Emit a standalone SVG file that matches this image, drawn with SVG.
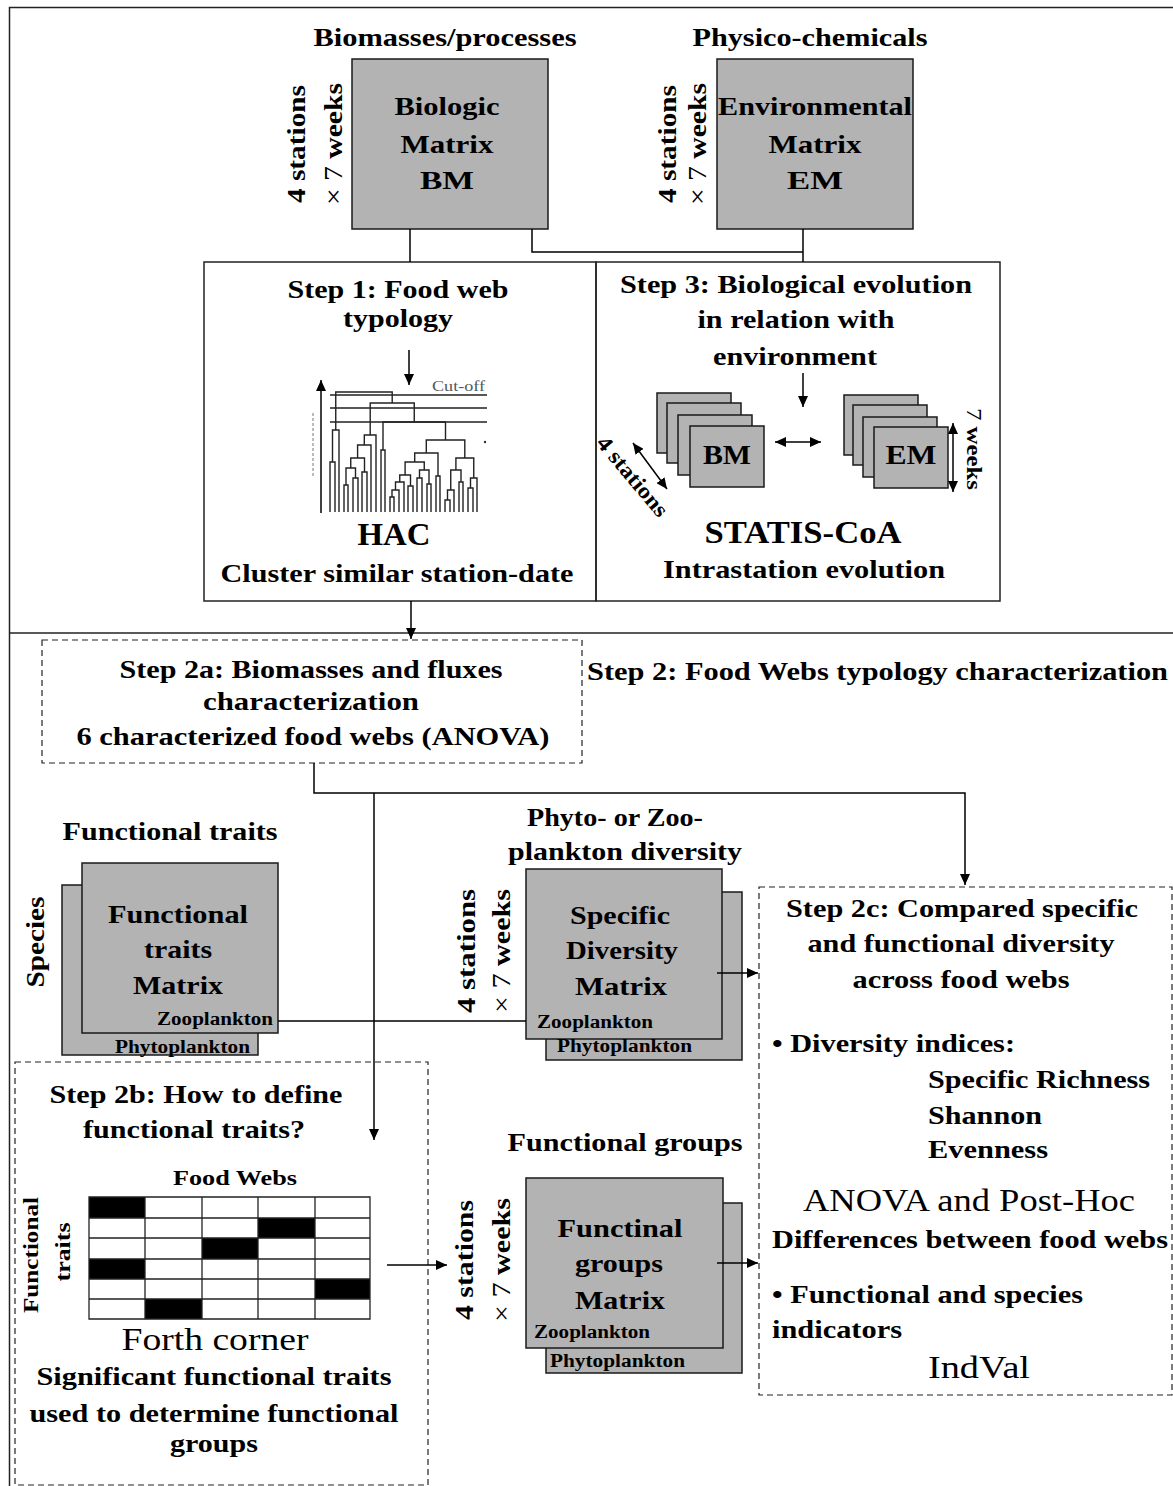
<svg xmlns="http://www.w3.org/2000/svg" width="1173" height="1486" viewBox="0 0 1173 1486">
<style>
.t{font-family:"Liberation Serif","Times New Roman",serif;font-weight:bold;fill:#000}
.n{font-weight:normal}
.s25{font-size:25px}
.s31{font-size:31px}
.s18{font-size:18px}
.box{fill:#b3b3b3;stroke:#1a1a1a;stroke-width:1.5}
.ln{fill:none;stroke:#000;stroke-width:1.5}
.dash{fill:none;stroke:#222;stroke-width:1.2;stroke-dasharray:6 4}
.frame{fill:none;stroke:#222;stroke-width:1.5}
</style>
<defs>
<marker id="ah" markerUnits="userSpaceOnUse" markerWidth="12" markerHeight="10" refX="11" refY="5" orient="auto-start-reverse">
<path d="M0,0 L11,5 L0,10 z" fill="#000"/>
</marker>
</defs>
<rect width="1173" height="1486" fill="#fff"/>

<g id="frame">
<path class="frame" d="M1173 7.5 H9.5 V1486"/>
<path class="frame" d="M9.5 633 H1173"/>
</g>

<g id="biologic-matrix">
<text class="t s25" x="445" y="46" text-anchor="middle" textLength="263" lengthAdjust="spacingAndGlyphs">Biomasses/processes</text>
<rect class="box" x="352" y="59" width="196" height="170"/>
<text class="t s25" x="447" y="115" text-anchor="middle" textLength="105" lengthAdjust="spacingAndGlyphs">Biologic</text>
<text class="t s25" x="447" y="153" text-anchor="middle" textLength="93" lengthAdjust="spacingAndGlyphs">Matrix</text>
<text class="t s25" x="447" y="189" text-anchor="middle" textLength="54" lengthAdjust="spacingAndGlyphs">BM</text>
<text class="t s25" transform="translate(305,144) rotate(-90)" text-anchor="middle" textLength="118" lengthAdjust="spacingAndGlyphs">4 stations</text>
<text class="t s25" transform="translate(342,144) rotate(-90)" text-anchor="middle" textLength="122" lengthAdjust="spacingAndGlyphs"><tspan class="n">× 7 </tspan>weeks</text>
</g>

<g id="environmental-matrix">
<text class="t s25" x="810" y="46" text-anchor="middle" textLength="235" lengthAdjust="spacingAndGlyphs">Physico-chemicals</text>
<rect class="box" x="717" y="59" width="196" height="170"/>
<text class="t s25" x="815" y="115" text-anchor="middle" textLength="194" lengthAdjust="spacingAndGlyphs">Environmental</text>
<text class="t s25" x="815" y="153" text-anchor="middle" textLength="93" lengthAdjust="spacingAndGlyphs">Matrix</text>
<text class="t s25" x="815" y="189" text-anchor="middle" textLength="56" lengthAdjust="spacingAndGlyphs">EM</text>
<text class="t s25" transform="translate(676,144) rotate(-90)" text-anchor="middle" textLength="118" lengthAdjust="spacingAndGlyphs">4 stations</text>
<text class="t s25" transform="translate(706,144) rotate(-90)" text-anchor="middle" textLength="122" lengthAdjust="spacingAndGlyphs"><tspan class="n">× 7 </tspan>weeks</text>
</g>

<g id="step1">
<rect class="frame" x="204" y="262" width="392" height="339"/>
<text class="t s25" x="398" y="298" text-anchor="middle" textLength="221" lengthAdjust="spacingAndGlyphs">Step 1: Food web</text>
<text class="t s25" x="398" y="327" text-anchor="middle" textLength="110" lengthAdjust="spacingAndGlyphs">typology</text>
<path class="ln" d="M409 350 V385" marker-end="url(#ah)"/>
<path class="ln" d="M321 513 V380" marker-end="url(#ah)"/>
<path d="M313 413 V478" fill="none" stroke="#777" stroke-width="1" stroke-dasharray="3 2"/>
<text class="t n" x="432" y="391" font-size="15" style="fill:#4f5a5a" textLength="53" lengthAdjust="spacingAndGlyphs">Cut-off</text>
<g fill="none" stroke="#222" stroke-width="1.4">
<path d="M330 395 H487 M330 408 H487 M330 422 H487"/>
<path d="M330 512 V462 H335 V512 M332.5 462 V430 H339 V512"/>
<path d="M344 512 V485 H348 V512 M353 512 V478 H358 V512 M346 485 V468 H355.5 V478 M350.75 468 V458 H364.5 V472 M362 512 V472 H367 V512 M357.6 458 V445 H371 V512 M364.3 445 V435 H376 V512"/>
<path d="M381 512 V450 H385 V512"/>
<path d="M390 512 V497 H394 V512 M392 497 V490 H399 V512 M395.5 490 V482 H404 V512 M408 512 V486 H413 V512 M399.75 482 V475 H410.5 V486"/>
<path d="M417 512 V478 H422 V512 M427 512 V484 H431 V512 M419.5 478 V470 H429 V484 M405.1 475 V462 H424.25 V470 M436 512 V476 H440 V512 M414.7 462 V453 H438 V476"/>
<path d="M445 512 V500 H450 V512 M447.5 500 V490 H454 V512 M459 512 V482 H463 V512 M450.75 490 V470 H461 V482 M468 512 V488 H473 V512 M470.5 488 V478 H477 V512 M455.9 470 V458 H473.75 V478"/>
<path d="M426.3 453 V440 H464.8 V458"/>
<path d="M383 450 V422 H445.5 V440"/>
<path d="M370.2 435 V403 H414.25 V422"/>
<path d="M335.75 430 V392 H392.2 V403"/>
</g>
<circle cx="485" cy="442" r="1.2" fill="#333"/>
<text class="t s31" x="394" y="545" text-anchor="middle" textLength="73" lengthAdjust="spacingAndGlyphs">HAC</text>
<text class="t s25" x="397" y="582" text-anchor="middle" textLength="353" lengthAdjust="spacingAndGlyphs">Cluster similar station-date</text>
</g>

<g id="step3">
<rect class="frame" x="596" y="262" width="404" height="339"/>
<text class="t s25" x="796" y="293" text-anchor="middle" textLength="352" lengthAdjust="spacingAndGlyphs">Step 3: Biological evolution</text>
<text class="t s25" x="796" y="328" text-anchor="middle" textLength="197" lengthAdjust="spacingAndGlyphs">in relation with</text>
<text class="t s25" x="795" y="365" text-anchor="middle" textLength="164" lengthAdjust="spacingAndGlyphs">environment</text>
<path class="ln" d="M803 373 V407" marker-end="url(#ah)"/>
<rect class="box" x="657" y="393" width="74" height="60"/>
<rect class="box" x="667" y="403" width="74" height="60"/>
<rect class="box" x="678" y="415" width="74" height="60"/>
<rect class="box" x="690" y="426" width="74" height="61"/>
<text class="t" font-size="27" x="727" y="464" text-anchor="middle" textLength="48" lengthAdjust="spacingAndGlyphs">BM</text>
<rect class="box" x="844" y="395" width="74" height="60"/>
<rect class="box" x="853" y="405" width="74" height="60"/>
<rect class="box" x="863" y="417" width="74" height="60"/>
<rect class="box" x="874" y="427" width="74" height="61"/>
<text class="t" font-size="27" x="911" y="464" text-anchor="middle" textLength="51" lengthAdjust="spacingAndGlyphs">EM</text>
<path class="ln" d="M775 442 H821" marker-start="url(#ah)" marker-end="url(#ah)"/>
<path class="ln" d="M953 423 V492" marker-start="url(#ah)" marker-end="url(#ah)"/>
<path class="ln" d="M633 443 L667 489" marker-start="url(#ah)" marker-end="url(#ah)"/>
<text class="t" font-size="22" transform="translate(967,449) rotate(90)" text-anchor="middle" textLength="82" lengthAdjust="spacingAndGlyphs"><tspan class="n">7 </tspan>weeks</text>
<text class="t" font-size="22" transform="translate(627,481) rotate(50)" text-anchor="middle" textLength="98" lengthAdjust="spacingAndGlyphs">4 stations</text>
<text class="t s31" x="803" y="543" text-anchor="middle" textLength="197" lengthAdjust="spacingAndGlyphs">STATIS-CoA</text>
<text class="t s25" x="804" y="578" text-anchor="middle" textLength="282" lengthAdjust="spacingAndGlyphs">Intrastation evolution</text>
</g>

<g id="step2a">
<rect class="dash" x="42" y="640" width="540" height="123"/>
<text class="t s25" x="311" y="678" text-anchor="middle" textLength="383" lengthAdjust="spacingAndGlyphs">Step 2a: Biomasses and fluxes</text>
<text class="t s25" x="311" y="710" text-anchor="middle" textLength="216" lengthAdjust="spacingAndGlyphs">characterization</text>
<text class="t s25" x="313" y="745" text-anchor="middle" textLength="473" lengthAdjust="spacingAndGlyphs">6 characterized food webs (ANOVA)</text>
</g>

<g id="step2-title">
<text class="t s25" x="587" y="680" textLength="581" lengthAdjust="spacingAndGlyphs">Step 2: Food Webs typology characterization</text>
</g>

<g id="functional-traits-matrix">
<text class="t s25" x="170" y="840" text-anchor="middle" textLength="215" lengthAdjust="spacingAndGlyphs">Functional traits</text>
<rect class="box" x="62" y="885" width="196" height="170"/>
<rect class="box" x="82" y="863" width="196" height="170"/>
<text class="t s25" x="178" y="923" text-anchor="middle" textLength="140" lengthAdjust="spacingAndGlyphs">Functional</text>
<text class="t s25" x="178" y="958" text-anchor="middle" textLength="68" lengthAdjust="spacingAndGlyphs">traits</text>
<text class="t s25" x="178" y="994" text-anchor="middle" textLength="90" lengthAdjust="spacingAndGlyphs">Matrix</text>
<text class="t s18" x="273" y="1025" text-anchor="end" textLength="116" lengthAdjust="spacingAndGlyphs">Zooplankton</text>
<text class="t s18" x="115" y="1053" textLength="135" lengthAdjust="spacingAndGlyphs">Phytoplankton</text>
<text class="t s25" transform="translate(44,942) rotate(-90)" text-anchor="middle" textLength="91" lengthAdjust="spacingAndGlyphs">Species</text>
</g>

<g id="specific-diversity-matrix">
<text class="t s25" x="615" y="826" text-anchor="middle" textLength="176" lengthAdjust="spacingAndGlyphs">Phyto- or Zoo-</text>
<text class="t s25" x="625" y="860" text-anchor="middle" textLength="234" lengthAdjust="spacingAndGlyphs">plankton diversity</text>
<rect class="box" x="546" y="892" width="196" height="168"/>
<rect class="box" x="526" y="869" width="196" height="170"/>
<text class="t s25" x="620" y="924" text-anchor="middle" textLength="100" lengthAdjust="spacingAndGlyphs">Specific</text>
<text class="t s25" x="622" y="959" text-anchor="middle" textLength="112" lengthAdjust="spacingAndGlyphs">Diversity</text>
<text class="t s25" x="621" y="995" text-anchor="middle" textLength="92" lengthAdjust="spacingAndGlyphs">Matrix</text>
<text class="t s18" x="537" y="1028" textLength="116" lengthAdjust="spacingAndGlyphs">Zooplankton</text>
<text class="t s18" x="557" y="1052" textLength="135" lengthAdjust="spacingAndGlyphs">Phytoplankton</text>
<text class="t s25" transform="translate(475,951) rotate(-90)" text-anchor="middle" textLength="124" lengthAdjust="spacingAndGlyphs">4 stations</text>
<text class="t s25" transform="translate(510,951) rotate(-90)" text-anchor="middle" textLength="124" lengthAdjust="spacingAndGlyphs"><tspan class="n">× 7 </tspan>weeks</text>
</g>

<g id="step2b">
<rect class="dash" x="15" y="1062" width="413" height="423"/>
<text class="t s25" x="196" y="1103" text-anchor="middle" textLength="293" lengthAdjust="spacingAndGlyphs">Step 2b: How to define</text>
<text class="t s25" x="194" y="1138" text-anchor="middle" textLength="222" lengthAdjust="spacingAndGlyphs">functional traits?</text>
<text class="t" font-size="21" x="235" y="1185" text-anchor="middle" textLength="124" lengthAdjust="spacingAndGlyphs">Food Webs</text>
<g fill="#000">
<rect x="89" y="1197" width="56" height="21"/>
<rect x="258" y="1218" width="57" height="20"/>
<rect x="202" y="1238" width="56" height="21"/>
<rect x="89" y="1259" width="56" height="20"/>
<rect x="315" y="1279" width="55" height="20"/>
<rect x="145" y="1299" width="57" height="20"/>
</g>
<path d="M89 1197 H370 V1319 H89 Z M145 1197 V1319 M202 1197 V1319 M258 1197 V1319 M315 1197 V1319 M89 1218 H370 M89 1238 H370 M89 1259 H370 M89 1279 H370 M89 1299 H370" fill="none" stroke="#222" stroke-width="1.3"/>
<text class="t" font-size="22" transform="translate(38,1255) rotate(-90)" text-anchor="middle" textLength="116" lengthAdjust="spacingAndGlyphs">Functional</text>
<text class="t" font-size="22" transform="translate(70,1252) rotate(-90)" text-anchor="middle" textLength="59" lengthAdjust="spacingAndGlyphs">traits</text>
<text class="t n s31" x="215" y="1350" text-anchor="middle" textLength="187" lengthAdjust="spacingAndGlyphs">Forth corner</text>
<text class="t s25" x="214" y="1385" text-anchor="middle" textLength="355" lengthAdjust="spacingAndGlyphs">Significant functional traits</text>
<text class="t s25" x="214" y="1422" text-anchor="middle" textLength="369" lengthAdjust="spacingAndGlyphs">used to determine functional</text>
<text class="t s25" x="214" y="1452" text-anchor="middle" textLength="88" lengthAdjust="spacingAndGlyphs">groups</text>
</g>

<g id="functional-groups-matrix">
<text class="t s25" x="625" y="1151" text-anchor="middle" textLength="235" lengthAdjust="spacingAndGlyphs">Functional groups</text>
<rect class="box" x="546" y="1203" width="196" height="170"/>
<rect class="box" x="526" y="1178" width="197" height="170"/>
<text class="t s25" x="620" y="1237" text-anchor="middle" textLength="125" lengthAdjust="spacingAndGlyphs">Functinal</text>
<text class="t s25" x="619" y="1272" text-anchor="middle" textLength="88" lengthAdjust="spacingAndGlyphs">groups</text>
<text class="t s25" x="620" y="1309" text-anchor="middle" textLength="90" lengthAdjust="spacingAndGlyphs">Matrix</text>
<text class="t s18" x="534" y="1338" textLength="116" lengthAdjust="spacingAndGlyphs">Zooplankton</text>
<text class="t s18" x="550" y="1367" textLength="135" lengthAdjust="spacingAndGlyphs">Phytoplankton</text>
<text class="t s25" transform="translate(473,1260) rotate(-90)" text-anchor="middle" textLength="120" lengthAdjust="spacingAndGlyphs">4 stations</text>
<text class="t s25" transform="translate(510,1260) rotate(-90)" text-anchor="middle" textLength="124" lengthAdjust="spacingAndGlyphs"><tspan class="n">× 7 </tspan>weeks</text>
</g>

<g id="step2c">
<rect class="dash" x="759" y="887" width="413" height="508"/>
<text class="t s25" x="962" y="917" text-anchor="middle" textLength="352" lengthAdjust="spacingAndGlyphs">Step 2c: Compared specific</text>
<text class="t s25" x="961" y="952" text-anchor="middle" textLength="307" lengthAdjust="spacingAndGlyphs">and functional diversity</text>
<text class="t s25" x="961" y="988" text-anchor="middle" textLength="217" lengthAdjust="spacingAndGlyphs">across food webs</text>
<text class="t s25" x="772" y="1052" textLength="243" lengthAdjust="spacingAndGlyphs">• Diversity indices:</text>
<text class="t s25" x="928" y="1088" textLength="222" lengthAdjust="spacingAndGlyphs">Specific Richness</text>
<text class="t s25" x="928" y="1124" textLength="114" lengthAdjust="spacingAndGlyphs">Shannon</text>
<text class="t s25" x="928" y="1158" textLength="120" lengthAdjust="spacingAndGlyphs">Evenness</text>
<text class="t n s31" x="969" y="1211" text-anchor="middle" textLength="332" lengthAdjust="spacingAndGlyphs">ANOVA and Post-Hoc</text>
<text class="t s25" x="772" y="1248" textLength="396" lengthAdjust="spacingAndGlyphs">Differences between food webs</text>
<text class="t s25" x="772" y="1303" textLength="311" lengthAdjust="spacingAndGlyphs">• Functional and species</text>
<text class="t s25" x="772" y="1338" textLength="130" lengthAdjust="spacingAndGlyphs">indicators</text>
<text class="t n s31" x="979" y="1378" text-anchor="middle" textLength="102" lengthAdjust="spacingAndGlyphs">IndVal</text>
</g>

<g id="connectors">
<path class="ln" d="M410 229 V262"/>
<path class="ln" d="M532 229 V252 H803"/>
<path class="ln" d="M803 229 V262"/>
<path class="ln" d="M411 601 V639" marker-end="url(#ah)"/>
<path class="ln" d="M314 763 V793 H965 V885" marker-end="url(#ah)"/>
<path class="ln" d="M374 793 V1140" marker-end="url(#ah)"/>
<path class="ln" d="M278 1021 H526"/>
<path class="ln" d="M717 973 H758" marker-end="url(#ah)"/>
<path class="ln" d="M387 1265 H447" marker-end="url(#ah)"/>
<path class="ln" d="M717 1263 H758" marker-end="url(#ah)"/>
</g>
</svg>
